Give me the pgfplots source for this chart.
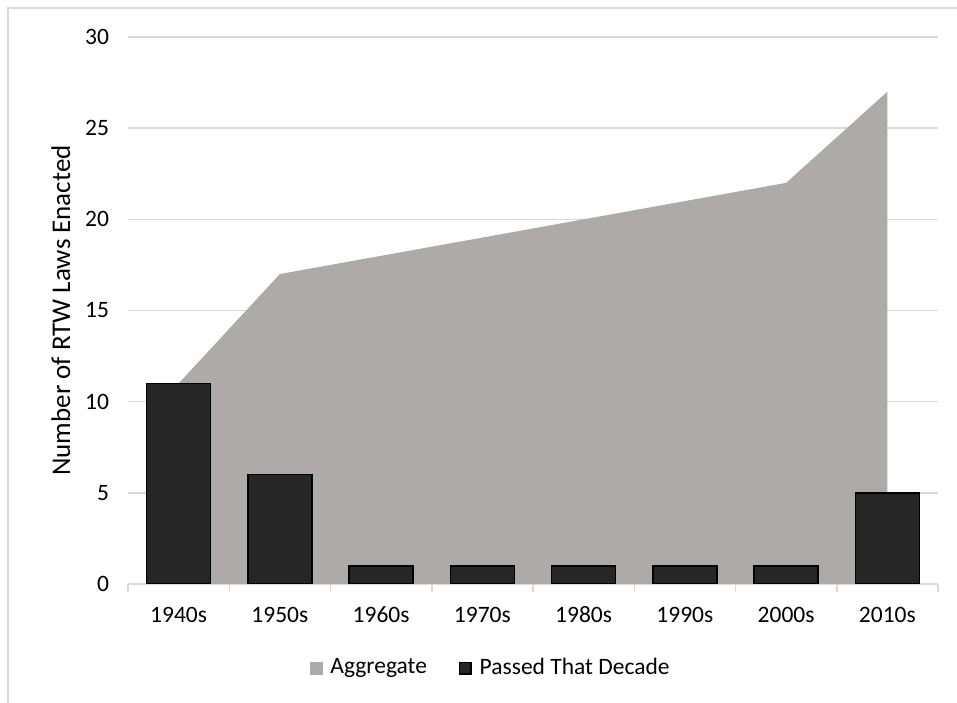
\documentclass[border=0pt]{standalone}
\usepackage{fontspec}
\setmainfont{Carlito}
\usepackage{pgfplots}
\pgfplotsset{compat=1.18}

\definecolor{areagray}{HTML}{AEAAAA}
\definecolor{barblack}{HTML}{262626}
\definecolor{gridgray}{HTML}{D9D9D9}

\begin{document}
\fontsize{23.5}{28}\selectfont
\begin{tikzpicture}
% chart frame
\path[use as bounding box] (0,0) rectangle (957pt,703pt);
\draw[gridgray, line width=2pt] (8pt,0) -- (8pt,695pt) -- (957pt,695pt);
\begin{axis}[
  at={(128pt,119pt)}, anchor=south west,
  scale only axis, width=810pt, height=547pt,
  xmin=-0.5, xmax=7.5, ymin=0, ymax=30,
  xtick={0,...,7},
  xticklabels={1940s,1950s,1960s,1970s,1980s,1990s,2000s,2010s},
  minor xtick={-0.5,0.5,...,7.5},
  ytick={0,5,...,30},
  ymajorgrids,
  major grid style={gridgray, line width=1.5pt},
  axis lines*=left,
  x axis line style={gridgray, line width=1.5pt, -},
  y axis line style={draw=none},
  tick align=outside,
  major tick length=0pt,
  minor tick length=8pt,
  every minor tick/.append style={gridgray, line width=1.5pt},
  /pgf/number format/assume math mode=true,
  tick label style={font=\fontsize{23.5}{28}\selectfont, black},
  yticklabel style={xshift=-11pt},
  xticklabel style={anchor=base, yshift=-39pt},
  ylabel={Number of RTW Laws Enacted},
  ylabel style={at={(axis description cs:-0.083,0.5)}, anchor=center,
    font=\fontsize{27}{32}\selectfont},
  legend columns=2,
  legend style={at={(axis description cs:0.4488,-0.1536)}, anchor=center,
    draw=none, fill=none,
    font=\fontsize{23.5}{28}\selectfont,
    /tikz/every even column/.append style={column sep=29pt},
    nodes={inner sep=3pt}},
]
\addplot[fill=areagray, draw=none,
  legend image code/.code={\fill[areagray] (0pt,-6.5pt) rectangle (13pt,6.5pt); \path (17pt,0pt);}]
  coordinates {
  (0,11) (1,17) (2,18) (3,19) (4,20) (5,21) (6,22) (7,27)
} \closedcycle;
\addlegendentry{Aggregate}
\addplot[ybar, bar width=64pt, fill=barblack, draw=black, line width=1.5pt,
  legend image code/.code={\draw[fill=barblack, draw=black, line width=1.5pt] (0.75pt,-5.75pt) rectangle (12.25pt,5.75pt); \path (17pt,0pt);}]
  coordinates {
  (0,11) (1,6) (2,1) (3,1) (4,1) (5,1) (6,1) (7,5)
};
\addlegendentry{Passed That Decade}
\end{axis}
\end{tikzpicture}
\end{document}
